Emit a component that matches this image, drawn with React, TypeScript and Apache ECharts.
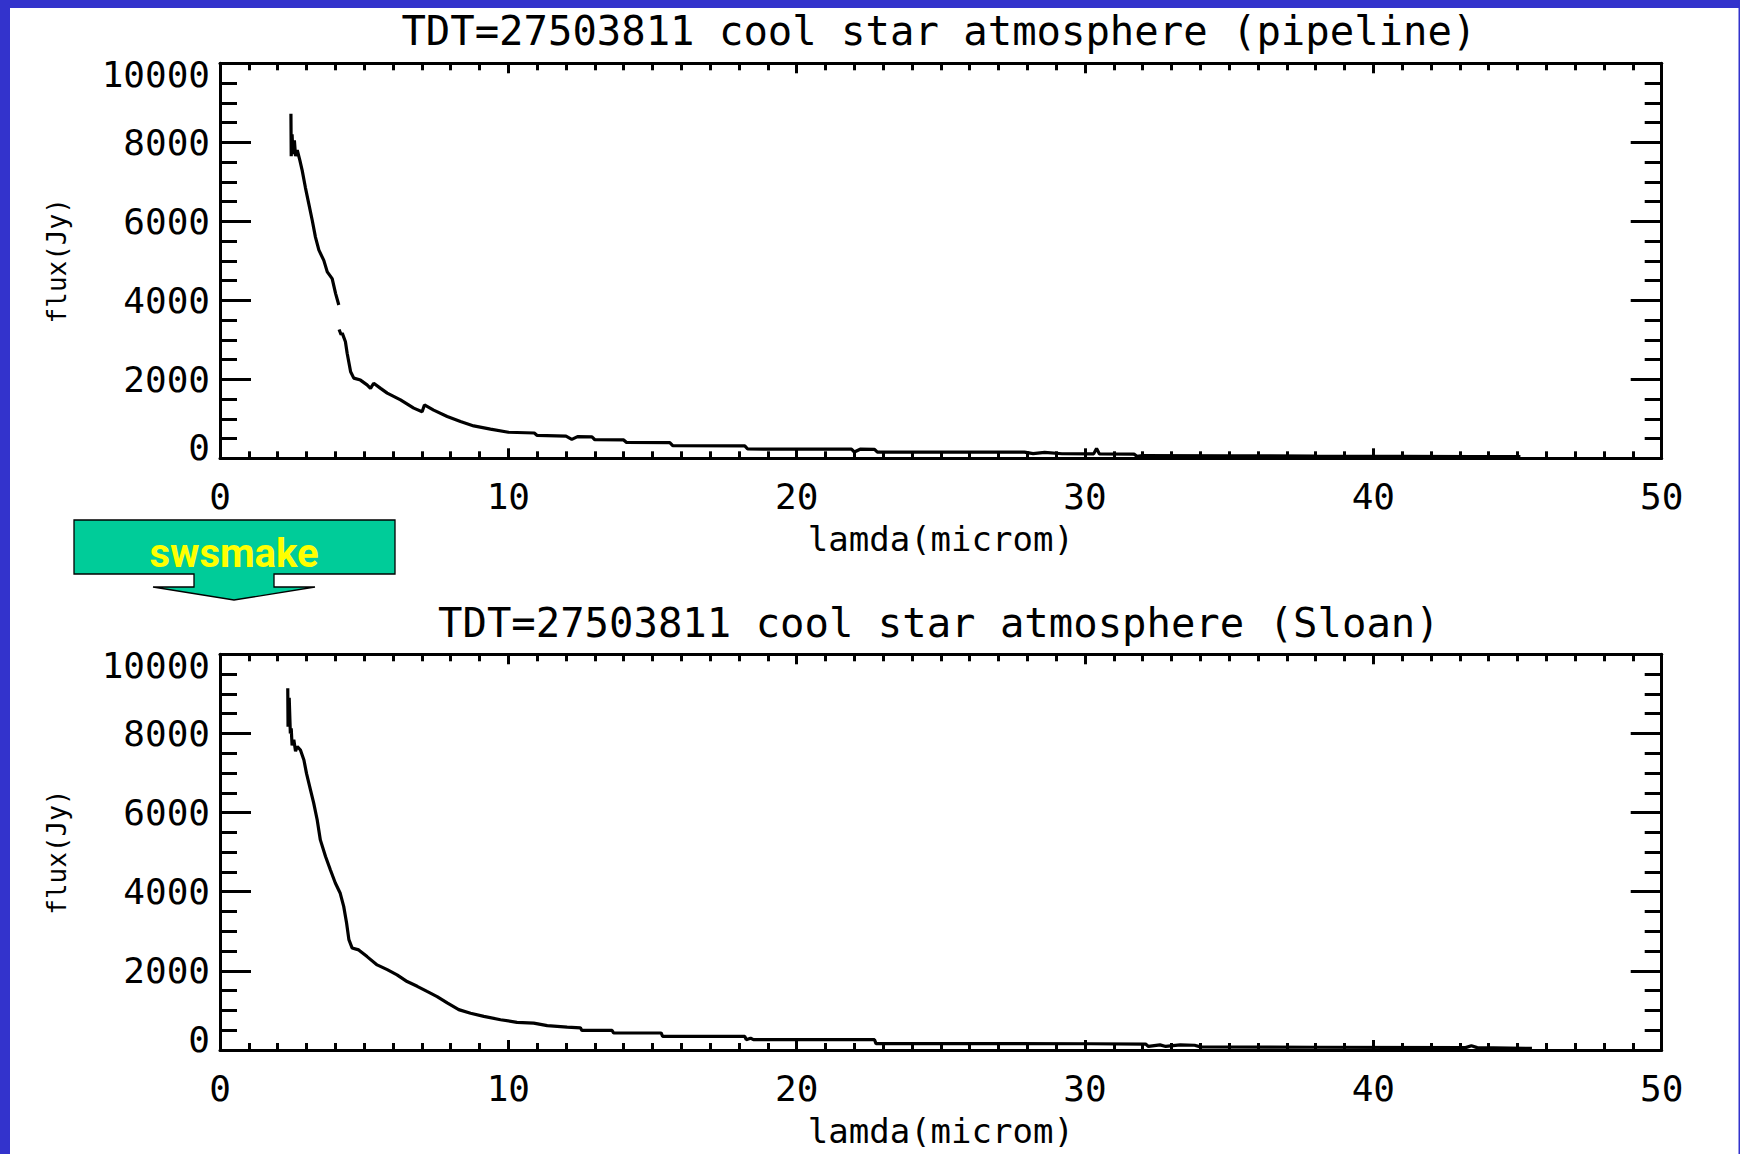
import React, { useEffect, useRef } from "react";
import * as echarts from "echarts";

// ---------- data ----------
const titles = [
  "TDT=27503811 cool star atmosphere (pipeline)",
  "TDT=27503811 cool star atmosphere (Sloan)",
];
const xAxisName = "lamda(microm)";
const yAxisName = "flux(Jy)";
const arrowLabel = "swsmake";

const xMin = 0;
const xMax = 50;
const xStep = 10;
const yMin = 0;
const yMax = 10000;
const yStep = 2000;

// pipeline spectrum (wavelength in micron, flux in Jy); null = gap in the data
const pipelineLambda = [
  2.46, 2.47, 2.5, 2.53, 2.58, 2.62, 2.68, 2.77, 2.85, 2.96, 3.08, 3.2, 3.31, 3.43, 3.6, 3.72, 3.89, 4.01, 4.12,
  4.125,
  4.13, 4.2, 4.24, 4.35, 4.41, 4.53, 4.64, 4.87, 5.1, 5.22, 5.33, 5.57, 5.8, 6.26, 6.72, 7.01, 7.09, 7.41, 7.88,
  8.34, 8.8, 9.38, 10.0, 10.9, 11.0, 12.0, 12.2, 12.4, 12.9, 13.0, 14.0, 14.1, 15.6, 15.7, 18.2, 18.3, 21.9, 22.0,
  22.2, 22.7, 22.8, 27.9, 28.2, 28.6, 29.2, 30.3, 30.4, 30.5, 31.7, 31.8, 32.0, 35.0, 38.0, 41.0, 43.5, 45.1,
];
const pipelineFlux = [
  8720, 7650, 8200, 7700, 8050, 7650, 7800, 7540, 7290, 6860, 6440, 6020, 5600, 5270, 5010, 4720, 4550, 4170, 3880,
  null,
  3260, 3130, 3170, 2950, 2660, 2190, 2030, 1980, 1860, 1770, 1900, 1770, 1650, 1480, 1270, 1180, 1350, 1220, 1060,
  930, 820, 740, 660, 640, 580, 560, 480, 550, 540, 470, 465, 400, 395, 320, 315, 235, 230, 160,
  230, 228, 158, 155, 120, 150, 115, 112, 250, 110, 105, 50, 70, 65, 55, 50, 45, 40,
];

// Sloan spectrum
const sloanLambda = [
  2.35, 2.36, 2.4, 2.44, 2.47, 2.5, 2.56, 2.62, 2.68, 2.79, 2.91, 3.0, 3.14, 3.25, 3.37, 3.48, 3.66, 3.83, 4.0,
  4.17, 4.29, 4.39, 4.47, 4.58, 4.81, 5.1, 5.45, 5.8, 6.14, 6.49, 6.84, 7.18, 7.53, 7.88, 8.28, 8.69, 9.15, 9.73,
  10.3, 10.88, 11.35, 12.04, 12.5, 12.55, 13.6, 13.65, 15.3, 15.35, 18.2, 18.25, 18.4, 18.5, 22.7, 22.75, 30.2,
  32.1, 32.2, 32.6, 32.8, 33.3, 33.8, 34.0, 38.0, 43.2, 43.4, 43.6, 45.5,
];
const sloanFlux = [
  9140, 8170, 8900, 8000, 8130, 7700, 7840, 7550, 7670, 7580, 7330, 6990, 6570, 6240, 5820, 5310, 4890, 4550, 4220,
  3960, 3630, 3210, 2790, 2580, 2530, 2360, 2150, 2030, 1900, 1730, 1610, 1480, 1350, 1190, 1020, 930, 850, 765,
  700, 680, 615, 580, 560, 495, 495, 430, 430, 345, 345, 260, 300, 260, 260, 160, 158,
  150, 90, 130, 90, 130, 120, 80, 70, 60, 110, 60, 40,
];

// ---------- styling ----------
const MONO = "'DejaVu Sans Mono', monospace";
const BLUE = "#3333cc";
const GRID_LEFT = 220;
const GRID_WIDTH = 1441.7;
const grids = [
  { left: GRID_LEFT, top: 63.3, width: GRID_WIDTH, height: 395 },
  { left: GRID_LEFT, top: 654.3, width: GRID_WIDTH, height: 395.7 },
];
const titleTops = [10, 602];

const toPairs = (xs: number[], ys: (number | null)[]) =>
  xs.map((x, i) => [x, ys[i] === null ? "-" : ys[i]]);

function buildOption() {
  const xAxes: any[] = [];
  const yAxes: any[] = [];
  const lineBlack = { color: "#000", width: 3 };
  grids.forEach((_, gi) => {
    const xCommon = {
      type: "value",
      gridIndex: gi,
      min: xMin,
      max: xMax,
      interval: xStep,
      axisLine: { show: true, onZero: false, lineStyle: lineBlack },
      axisTick: { show: true, inside: true, length: 10, lineStyle: lineBlack },
      minorTick: { show: true, splitNumber: 10, length: 7, lineStyle: lineBlack },
      splitLine: { show: false },
      minorSplitLine: { show: false },
    };
    xAxes.push({
      ...xCommon,
      position: "bottom",
      name: xAxisName,
      nameLocation: "middle",
      nameGap: 64,
      nameTextStyle: { fontFamily: MONO, fontSize: 34, color: "#000" },
      axisLabel: {
        show: true,
        margin: 20,
        fontFamily: MONO,
        fontSize: 36,
        color: "#000",
        formatter: (v: number) => String(v),
      },
    });
    xAxes.push({ ...xCommon, position: "top", axisLabel: { show: false } });

    const yCommon = {
      type: "value",
      gridIndex: gi,
      min: yMin,
      max: yMax,
      interval: yStep,
      axisLine: { show: true, onZero: false, lineStyle: lineBlack },
      axisTick: { show: true, inside: true, length: 31, lineStyle: lineBlack },
      minorTick: { show: true, splitNumber: 4, length: 17, lineStyle: lineBlack },
      splitLine: { show: false },
      minorSplitLine: { show: false },
    };
    yAxes.push({
      ...yCommon,
      position: "left",
      name: yAxisName,
      nameLocation: "middle",
      nameGap: 150,
      nameTextStyle: { fontFamily: MONO, fontSize: 26, color: "#000" },
      axisLabel: {
        show: true,
        margin: 10,
        fontFamily: MONO,
        fontSize: 36,
        lineHeight: 22,
        color: "#000",
        formatter: (v: number) => String(v),
        verticalAlignMinLabel: "bottom",
        verticalAlignMaxLabel: "top",
      },
    });
    yAxes.push({ ...yCommon, position: "right", axisLabel: { show: false } });
  });

  const seriesData = [toPairs(pipelineLambda, pipelineFlux), toPairs(sloanLambda, sloanFlux)];

  return {
    animation: false,
    backgroundColor: "#ffffff",
    title: titles.map((t, i) => ({
      text: t,
      left: GRID_LEFT + GRID_WIDTH / 2 - 2,
      top: titleTops[i],
      textAlign: "center",
      padding: 0,
      textStyle: { fontFamily: MONO, fontSize: 40.6, fontWeight: "normal", color: "#000" },
    })),
    grid: grids.map((g) => ({ ...g, containLabel: false, outerBoundsMode: "none" })),
    xAxis: xAxes,
    yAxis: yAxes,
    series: seriesData.map((d, i) => ({
      type: "line",
      xAxisIndex: i * 2,
      yAxisIndex: i * 2,
      data: d,
      showSymbol: false,
      symbol: "none",
      connectNulls: false,
      lineStyle: { color: "#000", width: 3.2 },
      emphasis: { disabled: true },
      silent: true,
    })),
    graphic: [
      { type: "rect", shape: { x: 0, y: 0, width: 10, height: 1154 }, style: { fill: BLUE }, silent: true },
      { type: "rect", shape: { x: 0, y: 0, width: 1740, height: 8 }, style: { fill: BLUE }, silent: true },
      { type: "rect", shape: { x: 1738.5, y: 0, width: 1.5, height: 1154 }, style: { fill: BLUE }, silent: true },
      {
        type: "polygon",
        shape: {
          points: [
            [74, 520], [395, 520], [395, 574], [274, 574], [274, 587], [315, 587],
            [234, 600], [153, 587], [194, 587], [194, 574], [74, 574],
          ],
        },
        style: { fill: "#00cc99", stroke: "#000", lineWidth: 1.3 },
        silent: true,
      },
      {
        type: "text",
        x: 234,
        y: 553,
        style: {
          text: arrowLabel,
          fill: "#ffff00",
          fontFamily: "Roboto, 'Open Sans', sans-serif",
          fontWeight: "bold",
          fontSize: 40,
          align: "center",
          verticalAlign: "middle",
        },
        silent: true,
      },
    ],
  };
}

export default function App() {
  const ref = useRef<HTMLDivElement>(null);
  useEffect(() => {
    document.body.style.margin = "0";
    const chart = echarts.init(ref.current as HTMLDivElement, null, { renderer: "svg" });
    chart.setOption(buildOption() as any);
    return () => chart.dispose();
  }, []);
  return <div ref={ref} style={{ width: 1740, height: 1154, background: "#fff" }} />;
}
